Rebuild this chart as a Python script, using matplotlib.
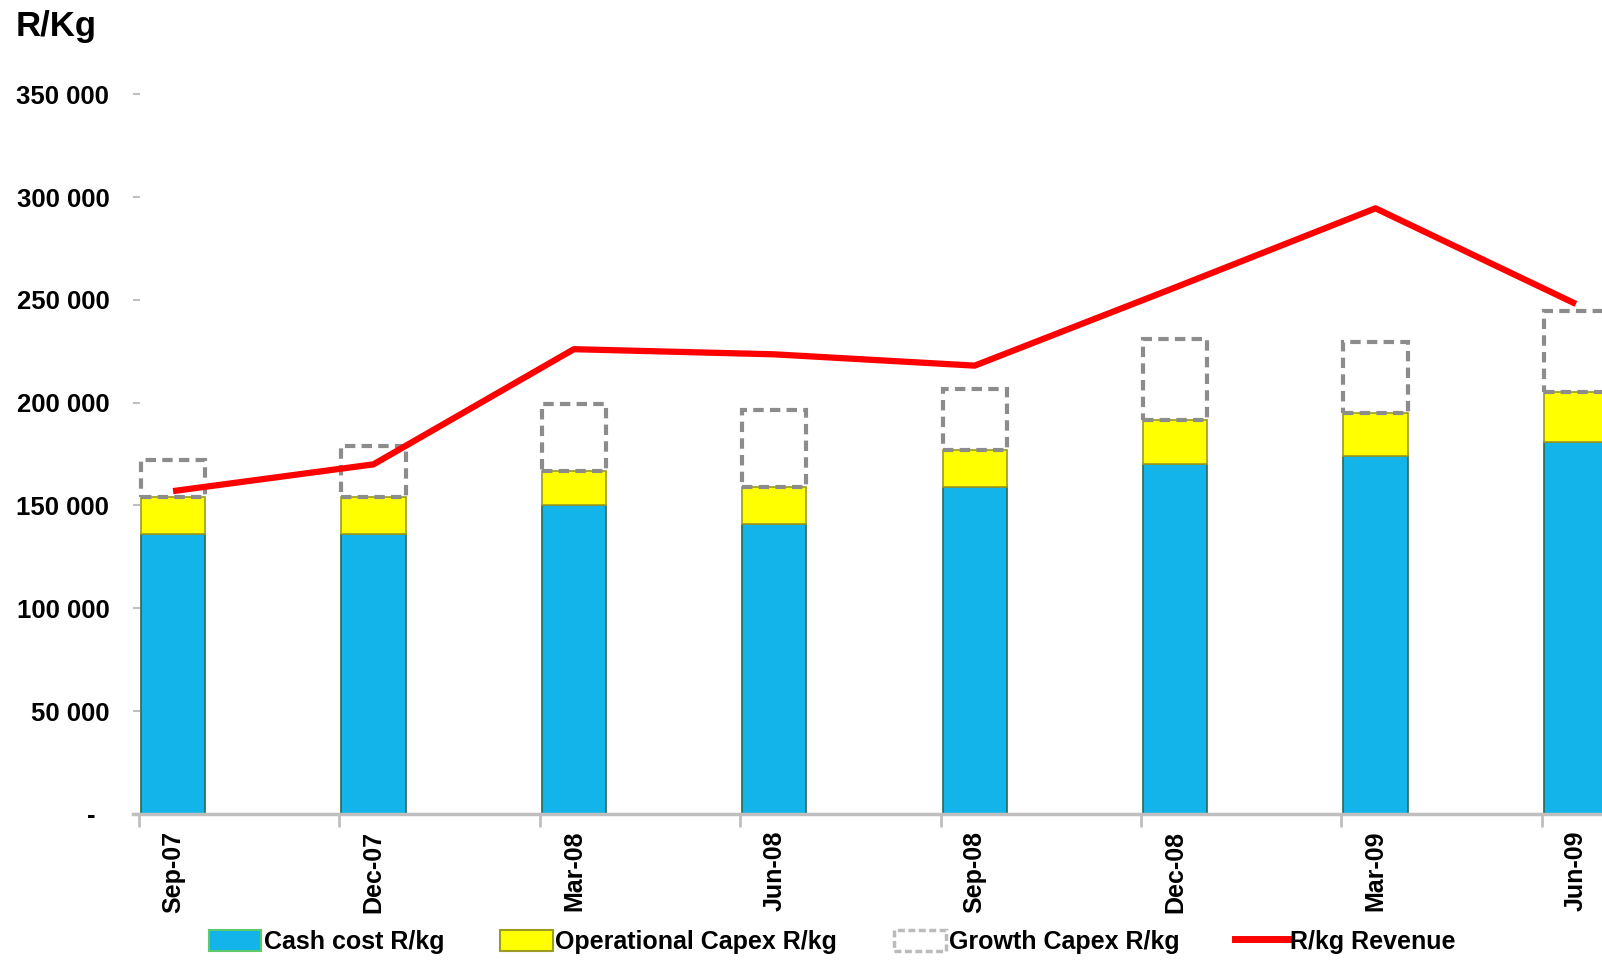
import matplotlib.pyplot as plt
from matplotlib.patches import Patch
from matplotlib.lines import Line2D

# ------------------------------------------------------------
#  Datos
# ------------------------------------------------------------
quarters = ["Sep-07", "Dec-07", "Mar-08", "Jun-08", "Sep-08", "Dec-08", "Mar-09", "Jun-09"]
cash_cost = [136000, 136000, 150000, 141000, 159000, 170000, 174000, 181000]
op_capex = [18000, 18000, 17000, 18000, 18000, 21500, 21000, 24000]
growth_capex = [18000, 25000, 32500, 37500, 29500, 39500, 34500, 39500]
revenue = [157000, 170000, 226000, 223500, 218000, 256000, 294500, 248000]

y_ticks = [0, 50000, 100000, 150000, 200000, 250000, 300000, 350000]
y_tick_labels = ["-  ", "50 000", "100 000", "150 000", "200 000", "250 000", "300 000", "350 000"]

BLUE = "#13B4EA"
YELLOW = "#FFFF00"
GREY = "#8C8C8C"
RED = "#FF0000"
AXIS_GREY = "#BFBFBF"

plt.rcParams["font.family"] = ["Liberation Sans", "DejaVu Sans"]
plt.rcParams["font.weight"] = "bold"

fig = plt.figure(figsize=(16.02, 9.61), dpi=100)
ax = fig.add_axes([0.083, 0.153, 0.917, 0.749])

x = list(range(len(quarters)))
w = 0.32

# --- barras apiladas ---
ax.bar(x, cash_cost, width=w, color=BLUE, edgecolor="#2A6A50", linewidth=1.2, zorder=2)
ax.bar(x, op_capex, width=w, bottom=cash_cost, color=YELLOW,
       edgecolor="#9C9C20", linewidth=1.2, zorder=2)
base = [c + o for c, o in zip(cash_cost, op_capex)]
ax.bar(x, growth_capex, width=w, bottom=base, facecolor="none",
       edgecolor=GREY, linewidth=3, linestyle=(0, (2.5, 1.5)), zorder=2)

# --- linea de ingresos ---
ax.plot(x, revenue, color=RED, linewidth=4.5, zorder=3, solid_capstyle="butt")

# --- ejes ---
ax.set_xlim(-0.2, 7.13)
ax.set_ylim(0, 350000)
for s in ["top", "right", "left"]:
    ax.spines[s].set_visible(False)
ax.spines["bottom"].set_color(AXIS_GREY)
ax.spines["bottom"].set_linewidth(2.5)

ax.set_yticks(y_ticks)
ax.set_yticklabels(y_tick_labels, fontsize=18.5, fontweight="bold")
ax.tick_params(axis="y", direction="in", length=5, width=1.5, color=AXIS_GREY, pad=17)

ax.set_xticks(x)
ax.set_xticklabels(quarters, rotation=90, fontsize=18, fontweight="bold")
ax.tick_params(axis="x", length=0, pad=12)
ax.set_xticks([i - 0.17 for i in x], minor=True)
ax.tick_params(axis="x", which="minor", length=9, width=2, color=AXIS_GREY)

fig.text(0.01, 0.99, "R/Kg", fontsize=25, fontweight="bold", va="top", ha="left")

# --- leyenda ---
handles = [
    Patch(facecolor=BLUE, edgecolor="#5DCB6B", linewidth=1.5),
    Patch(facecolor=YELLOW, edgecolor="#9C9C20", linewidth=1.5),
    Patch(facecolor="white", edgecolor="#BBBBBB", linewidth=2.5, linestyle=(0, (2, 1))),
    Line2D([0], [0], color=RED, linewidth=5),
]
labels = ["Cash cost R/kg", "Operational Capex R/kg", "Growth Capex R/kg", "R/kg Revenue"]
fig.legend(handles, labels, loc="center left", bbox_to_anchor=(0.124, 0.02),
           ncol=4, frameon=False, fontsize=18, handlelength=2.1, handleheight=0.9,
           handletextpad=0.1, columnspacing=2.25, borderaxespad=0)

fig.savefig("out.png", dpi=100)
